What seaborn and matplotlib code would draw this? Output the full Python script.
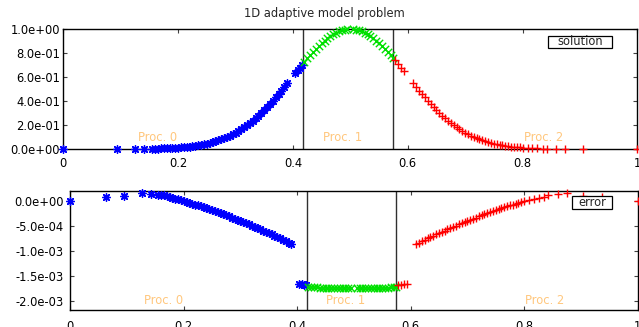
import matplotlib
matplotlib.use("Agg")
import matplotlib.pyplot as plt
from matplotlib.ticker import FuncFormatter, FixedLocator
from matplotlib.patches import Rectangle
import pandas as pd
import seaborn as sns

# ---------------------------------------------------------------- data
# Interior mesh of processor 0 (dense part plus the cells next to the cut)
x_proc0 = [0.160, 0.165, 0.170, 0.175, 0.180, 0.185, 0.190, 0.195, 0.200, 0.205,
           0.210, 0.215, 0.220, 0.225, 0.230, 0.235, 0.240, 0.245, 0.250, 0.255,
           0.260, 0.265, 0.270, 0.275, 0.280, 0.285, 0.290, 0.295, 0.300, 0.305,
           0.310, 0.315, 0.320, 0.325, 0.330, 0.335, 0.340, 0.345, 0.350, 0.355,
           0.360, 0.365, 0.370, 0.375, 0.380, 0.385, 0.390,
           0.404, 0.408, 0.412, 0.416]
sol_proc0 = [0.0031, 0.0037, 0.0043, 0.0051, 0.0060, 0.0070, 0.0082, 0.0096, 0.0111, 0.0129,
             0.0149, 0.0172, 0.0198, 0.0228, 0.0261, 0.0299, 0.0341, 0.0387, 0.0439, 0.0497,
             0.0561, 0.0632, 0.0710, 0.0796, 0.0889, 0.0992, 0.1103, 0.1223, 0.1353, 0.1494,
             0.1645, 0.1807, 0.1979, 0.2163, 0.2357, 0.2564, 0.2780, 0.3009, 0.3247, 0.3496,
             0.3753, 0.4021, 0.4296, 0.4579, 0.4868, 0.5163, 0.5461,
             0.6308, 0.6550, 0.6790, 0.7027]
err_proc0 = [1.26, 1.11, 0.96, 0.81, 0.65, 0.49, 0.33, 0.17, 0.00, -0.17,
             -0.34, -0.52, -0.70, -0.88, -1.07, -1.26, -1.45, -1.64, -1.84, -2.04,
             -2.24, -2.45, -2.66, -2.87, -3.09, -3.31, -3.53, -3.75, -3.98, -4.21,
             -4.44, -4.68, -4.92, -5.16, -5.41, -5.66, -5.91, -6.16, -6.42, -6.68,
             -6.94, -7.21, -7.48, -7.75, -8.03, -8.31, -8.59,
             -16.6, -16.7, -16.8, -16.9]          # units of 1e-4

# Coarse cells near the left boundary
x_proc0_tail_sol = [0.0, 0.093, 0.124, 0.140, 0.154]
sol_proc0_tail = [0.0, 0.0001, 0.0009, 0.0017, 0.0027]
x_proc0_tail_err = [0.0, 0.063, 0.095, 0.126, 0.142, 0.154]
err_proc0_tail = [0.0, 0.87, 1.00, 1.55, 1.40, 1.30]

# Processor 1 (around the peak)
x_proc1 = [0.420, 0.425, 0.430, 0.435, 0.440, 0.445, 0.450, 0.455, 0.460, 0.465,
           0.470, 0.475, 0.480, 0.485, 0.490, 0.495,
           0.505, 0.510, 0.515, 0.520, 0.525, 0.530, 0.535, 0.540, 0.545, 0.550,
           0.555, 0.560, 0.565, 0.570, 0.574]
sol_proc1 = [0.7261, 0.7548, 0.7827, 0.8096, 0.8353, 0.8596, 0.8825, 0.9037, 0.9231, 0.9406,
             0.9560, 0.9692, 0.9802, 0.9888, 0.9950, 0.9988,
             0.9988, 0.9950, 0.9888, 0.9802, 0.9692, 0.9560, 0.9406, 0.9231, 0.9037, 0.8825,
             0.8596, 0.8353, 0.8096, 0.7827, 0.7605]
err_proc1 = [-17.20, -17.24, -17.27, -17.30, -17.33, -17.36, -17.38, -17.41, -17.43, -17.44,
             -17.46, -17.47, -17.48, -17.49, -17.50, -17.50,
             -17.50, -17.50, -17.49, -17.48, -17.47, -17.46, -17.44, -17.43, -17.41, -17.38,
             -17.36, -17.33, -17.30, -17.27, -17.25]

# Processor 2 (cells next to the cut plus dense part)
x_proc2 = [0.578, 0.583, 0.588, 0.593,
           0.610, 0.615, 0.620, 0.625, 0.630, 0.635, 0.640, 0.645, 0.650, 0.655,
           0.660, 0.665, 0.670, 0.675, 0.680, 0.685, 0.690, 0.695, 0.700, 0.705,
           0.710, 0.715, 0.720, 0.725, 0.730, 0.735, 0.740, 0.745, 0.750, 0.755,
           0.760, 0.765, 0.770, 0.775, 0.780, 0.785, 0.790, 0.795, 0.800]
sol_proc2 = [0.7377, 0.7086, 0.6790, 0.6489,
             0.5461, 0.5163, 0.4868, 0.4579, 0.4296, 0.4021, 0.3753, 0.3496, 0.3247, 0.3009,
             0.2780, 0.2564, 0.2357, 0.2163, 0.1979, 0.1807, 0.1645, 0.1494, 0.1353, 0.1223,
             0.1103, 0.0992, 0.0889, 0.0796, 0.0710, 0.0632, 0.0561, 0.0497, 0.0439, 0.0387,
             0.0341, 0.0299, 0.0261, 0.0228, 0.0198, 0.0172, 0.0149, 0.0129, 0.0111]
err_proc2 = [-16.9, -16.8, -16.7, -16.6,
             -8.59, -8.31, -8.03, -7.75, -7.48, -7.21, -6.94, -6.68, -6.42, -6.16,
             -5.91, -5.66, -5.41, -5.16, -4.92, -4.68, -4.44, -4.21, -3.98, -3.75,
             -3.53, -3.31, -3.09, -2.87, -2.66, -2.45, -2.24, -2.04, -1.84, -1.64,
             -1.45, -1.26, -1.07, -0.88, -0.70, -0.52, -0.34, -0.17, 0.00]

# Coarse cells near the right boundary
x_proc2_tail_sol = [0.809, 0.817, 0.826, 0.835, 0.843, 0.859, 0.874, 0.905, 1.0]
sol_proc2_tail = [0.0085, 0.0065, 0.0048, 0.0037, 0.0028, 0.0015, 0.0008, 0.0002, 0.0]
x_proc2_tail_err = [0.809, 0.817, 0.826, 0.835, 0.843, 0.859, 0.875, 0.904, 0.937, 1.0]
err_proc2_tail = [0.25, 0.45, 0.65, 0.90, 1.15, 1.40, 1.55, 1.05, 0.87, 0.0]

# Partition cuts between processors
cuts = [0.418, 0.574]

proc_names = ["Proc. 0", "Proc. 1", "Proc. 2"]
label_x = [0.165, 0.486, 0.837]

x_ticks = [0, 0.2, 0.4, 0.6, 0.8, 1]
sol_ticks = [0.0, 0.2, 0.4, 0.6, 0.8, 1.0]
err_ticks = [0.0, -5.0e-4, -1.0e-3, -1.5e-3, -2.0e-3]

# ---------------------------------------------------------------- style
sns.set_style("white")
plt.rcParams["font.family"] = ["DejaVu Sans"]
plt.rcParams["font.size"] = 8.3

COLORS = ["#0000ff", "#00e000", "#ff0000"]
MARKERS = [(8, 2, 0), "x", "+"]
SIZES = [30, 28, 30]
LABEL_COLOR = "#ffc77d"

fig = plt.figure(figsize=(6.39, 3.27), dpi=100)
ax_sol = fig.add_axes([0.0991, 0.5443, 0.8983, 0.3670])
ax_err = fig.add_axes([0.1099, 0.0510, 0.8878, 0.3659])

E4 = 1e-4
sol_sets = [
    (x_proc0_tail_sol + x_proc0, sol_proc0_tail + sol_proc0),
    (x_proc1, sol_proc1),
    (x_proc2 + x_proc2_tail_sol, sol_proc2 + sol_proc2_tail),
]
err_sets = [
    (x_proc0_tail_err + x_proc0, [v * E4 for v in err_proc0_tail + err_proc0]),
    (x_proc1, [v * E4 for v in err_proc1]),
    (x_proc2 + x_proc2_tail_err, [v * E4 for v in err_proc2 + err_proc2_tail]),
]


def draw_panel(ax, sets):
    for c in cuts:
        ax.axvline(c, color="#303030", lw=1.0, zorder=1)
    for i, (xs, ys) in enumerate(sets):
        df = pd.DataFrame({"x": xs, "y": ys})
        sns.scatterplot(data=df, x="x", y="y", ax=ax, marker=MARKERS[i],
                        color=COLORS[i], s=SIZES[i], linewidth=1.0,
                        legend=False, clip_on=False, zorder=3)
    ax.set_xlim(0, 1)
    ax.set_xlabel("")
    ax.set_ylabel("")
    for sp in ax.spines.values():
        sp.set_visible(True)
        sp.set_color("black")
        sp.set_linewidth(1.0)
    ax.xaxis.set_major_locator(FixedLocator(x_ticks))
    ax.xaxis.set_major_formatter(FuncFormatter(lambda v, p: f"{v:g}"))
    ax.yaxis.set_major_formatter(FuncFormatter(lambda v, p: f"{v:.1e}"))
    ax.tick_params(direction="in", length=3.2, width=0.8, color="#404040",
                   top=True, right=True, bottom=True, left=True,
                   labelsize=8.3, labelcolor="black")


# ---- solution panel
draw_panel(ax_sol, sol_sets)
ax_sol.set_ylim(0, 1)
ax_sol.yaxis.set_major_locator(FixedLocator(sol_ticks))
ax_sol.tick_params(axis="x", pad=5.5)
ax_sol.tick_params(axis="y", pad=2.4)
for name, lx in zip(proc_names, label_x):
    ax_sol.text(lx, 0.10, name, color=LABEL_COLOR, ha="center", va="center",
                fontsize=8.3, zorder=2)
ax_sol.add_patch(Rectangle((0.845, 0.839), 0.1105, 0.105, transform=ax_sol.transAxes,
                           facecolor="white", edgecolor="black", lw=0.9, zorder=4))
ax_sol.text(0.900, 0.892, "solution", transform=ax_sol.transAxes, ha="center",
            va="center", fontsize=8.3, zorder=5)

# ---- error panel
draw_panel(ax_err, err_sets)
ax_err.set_ylim(-2.187e-3, 2.07e-4)
ax_err.yaxis.set_major_locator(FixedLocator(err_ticks))
ax_err.tick_params(axis="x", pad=7)
ax_err.tick_params(axis="y", pad=5)
for name, lx in zip(proc_names, label_x):
    ax_err.text(lx, -1.985e-3, name, color=LABEL_COLOR, ha="center", va="center",
                fontsize=8.3, zorder=2)
ax_err.add_patch(Rectangle((0.885, 0.847), 0.0695, 0.109, transform=ax_err.transAxes,
                           facecolor="white", edgecolor="black", lw=0.9, zorder=4))
ax_err.text(0.920, 0.901, "error", transform=ax_err.transAxes, ha="center",
            va="center", fontsize=8.3, zorder=5)

fig.text(324.5 / 639, 1 - 14 / 327, "1D adaptive model problem", ha="center",
         va="center", fontsize=8.3)

fig.savefig("out.png", dpi=100)
